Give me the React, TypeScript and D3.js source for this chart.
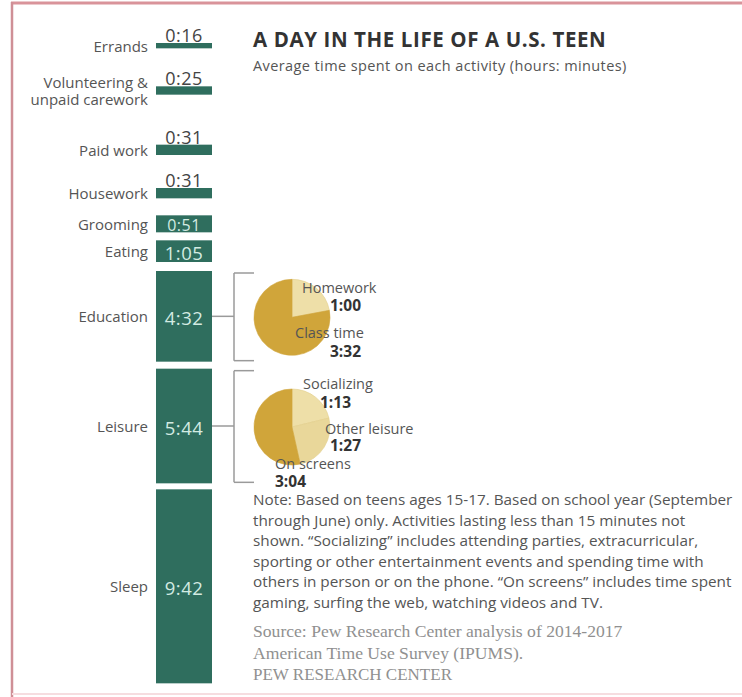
import React from "react";
import * as d3 from "d3";

// ---------- data ----------
const categories = [
  "Errands",
  "Volunteering &|unpaid carework",
  "Paid work",
  "Housework",
  "Grooming",
  "Eating",
  "Education",
  "Leisure",
  "Sleep",
];
const durations = ["0:16", "0:25", "0:31", "0:31", "0:51", "1:05", "4:32", "5:44", "9:42"];

const educationParts = ["Homework", "Class time"];
const educationTimes = ["1:00", "3:32"];

const leisureParts = ["Socializing", "Other leisure", "On screens"];
const leisureTimes = ["1:13", "1:27", "3:04"];

const titleText = "A DAY IN THE LIFE OF A U.S. TEEN";
const subtitleText = "Average time spent on each activity (hours: minutes)";
const noteLines = [
  "Note: Based on teens ages 15-17. Based on school year (September",
  "through June) only. Activities lasting less than 15 minutes not",
  "shown. \u201CSocializing\u201D includes attending parties, extracurricular,",
  "sporting or other entertainment events and spending time with",
  "others in person or on the phone. \u201COn screens\u201D includes time spent",
  "gaming, surfing the web, watching videos and TV.",
];
const sourceLines = [
  "Source: Pew Research Center analysis of 2014-2017",
  "American Time Use Survey (IPUMS).",
  "PEW RESEARCH CENTER",
];

// ---------- layout / style ----------
const W = 742;
const H = 697;
const BAR_X = 156;
const BAR_W = 56;
const TOP = 43;
const ROW_GAPS = [0, 38, 50, 33, 17, 8, 9, 7, 6];
const BAR_COLOR = "#2f6e5e";
const INSIDE_TEXT = "#d3ebe2";
const SANS = "'Open Sans', 'DejaVu Sans', sans-serif";
const SERIF = "'Liberation Serif', 'DejaVu Serif', serif";
const PIE_R = 38;
const PIE_CX = 292;
const DARK_GOLD = "#d0a53a";
const LIGHT_GOLD = ["#eedfa8", "#e9d79a"];

const toMin = (s: string) => {
  const [h, m] = s.split(":").map(Number);
  return h * 60 + m;
};

const minutes = durations.map(toMin);
const hScale = d3.scaleLinear().domain([0, 1440]).range([0, 480]);

// label offsets relative to pie centre (layout)
const eduLabelPos = [
  { name: [10, -24], val: [38, -6] },
  { name: [3, 21], val: [38, 40] },
];
const leiLabelPos = [
  { name: [11, -38], val: [28, -19] },
  { name: [33, 7], val: [38, 24] },
  { name: [-17, 42], val: [-17, 60] },
];

function PieBlock({
  cx,
  cy,
  parts,
  times,
  pos,
}: {
  cx: number;
  cy: number;
  parts: string[];
  times: string[];
  pos: { name: number[]; val: number[] }[];
}) {
  const vals = times.map(toMin);
  const pie = d3
    .pie<number>()
    .sort(null)
    .value((d) => d)(vals);
  const arc = d3.arc<d3.PieArcDatum<number>>().innerRadius(0).outerRadius(PIE_R);
  const n = parts.length;
  return (
    <g>
      <g transform={`translate(${cx},${cy})`}>
        {pie.map((p, i) => (
          <path
            key={i}
            d={arc(p) || ""}
            fill={i === n - 1 ? DARK_GOLD : LIGHT_GOLD[i % 2]}
            stroke={i === n - 1 ? DARK_GOLD : "#e3cf8c"}
            strokeWidth={0.6}
          />
        ))}
      </g>
      {parts.map((name, i) => (
        <g key={name}>
          <text
            x={cx + pos[i].name[0]}
            y={cy + pos[i].name[1]}
            fontFamily={SANS}
            fontSize={14.5}
            fill="#555"
          >
            {name}
          </text>
          <text
            x={cx + pos[i].val[0]}
            y={cy + pos[i].val[1]}
            fontFamily={SANS}
            fontSize={15.5}
            fontWeight={700}
            fill="#333"
          >
            {times[i]}
          </text>
        </g>
      ))}
    </g>
  );
}

export default function App() {
  const rows: { top: number; h: number }[] = [];
  let y = TOP;
  minutes.forEach((m, i) => {
    y += ROW_GAPS[i];
    const h = hScale(m);
    rows.push({ top: y, h });
    y += h;
  });

  const eduIdx = categories.indexOf("Education");
  const leiIdx = categories.indexOf("Leisure");

  const bracket = (i: number) => {
    const r = rows[i];
    const t = r.top + 2;
    const b = r.top + r.h - 1;
    const mid = r.top + r.h / 2;
    const bx = 234;
    return (
      <g key={"br" + i} stroke="#9a9a9a" strokeWidth={1.5} fill="none">
        <line x1={BAR_X + BAR_W} x2={bx} y1={mid} y2={mid} />
        <line x1={bx} x2={bx} y1={t} y2={b} />
        <line x1={bx} x2={bx + 20} y1={t} y2={t} />
        <line x1={bx} x2={bx + 20} y1={b} y2={b} />
      </g>
    );
  };

  return (
    <div style={{ position: "absolute", left: 0, top: 0, background: "#fff" }}>
      <svg width={W} height={H} style={{ display: "block" }}>
        <rect x={0} y={0} width={W} height={H} fill="#fff" />
        {/* frame */}
        <line x1={11} x2={W} y1={3} y2={3} stroke="#d9939a" strokeWidth={3} />
        <line x1={12} x2={12} y1={2} y2={H} stroke="#cf8f96" strokeWidth={2.5} />
        <line x1={12} x2={W} y1={694} y2={694} stroke="#f6dde0" strokeWidth={2} />

        {/* bars */}
        {rows.map((r, i) => {
          const lines = categories[i].split("|");
          const cy = r.top + r.h / 2;
          const above = r.h < 15;
          const fs = Math.min(18.5, r.h - 1);
          return (
            <g key={i}>
              <rect x={BAR_X} y={r.top} width={BAR_W} height={r.h} fill={BAR_COLOR} />
              <text
                x={148}
                y={cy - ((lines.length - 1) * 17) / 2}
                textAnchor="end"
                dominantBaseline="central"
                fontFamily={SANS}
                fontSize={15}
                fill="#555"
              >
                {lines.map((l, k) => (
                  <tspan key={k} x={148} dy={k === 0 ? 0 : 17}>
                    {l}
                  </tspan>
                ))}
              </text>
              {above ? (
                <text
                  x={BAR_X + BAR_W / 2}
                  y={r.top - 1}
                  textAnchor="middle"
                  fontFamily={SANS}
                  fontSize={18}
                  letterSpacing={0.5}
                  fill="#444"
                >
                  {durations[i]}
                </text>
              ) : (
                <text
                  x={BAR_X + BAR_W / 2}
                  y={cy + 1}
                  textAnchor="middle"
                  dominantBaseline="central"
                  fontFamily={SANS}
                  fontSize={fs}
                  letterSpacing={0.5}
                  fill={INSIDE_TEXT}
                >
                  {durations[i]}
                </text>
              )}
            </g>
          );
        })}

        {bracket(eduIdx)}
        {bracket(leiIdx)}

        <PieBlock
          cx={PIE_CX}
          cy={rows[eduIdx].top + rows[eduIdx].h / 2 + 1}
          parts={educationParts}
          times={educationTimes}
          pos={eduLabelPos}
        />
        <PieBlock
          cx={PIE_CX}
          cy={rows[leiIdx].top + rows[leiIdx].h / 2 + 1}
          parts={leisureParts}
          times={leisureTimes}
          pos={leiLabelPos}
        />

        {/* title */}
        <text x={253} y={47} fontFamily={SANS} fontWeight={700} fontSize={20.5} letterSpacing={0.6} fill="#333">
          {titleText}
        </text>
        <text x={253} y={71} fontFamily={SANS} fontSize={14.5} letterSpacing={0.4} fill="#555">
          {subtitleText}
        </text>

        {/* note */}
        {noteLines.map((l, i) => (
          <text key={i} x={253} y={505 + i * 20.5} fontFamily={SANS} fontSize={15.3} fill="#555">
            {l}
          </text>
        ))}
        {sourceLines.map((l, i) => (
          <text
            key={"s" + i}
            x={253}
            y={637 + i * 21.7}
            fontFamily={SERIF}
            fontSize={i === 2 ? 17 : 17.6}
            fill="#909090"
          >
            {l}
          </text>
        ))}
      </svg>
    </div>
  );
}
